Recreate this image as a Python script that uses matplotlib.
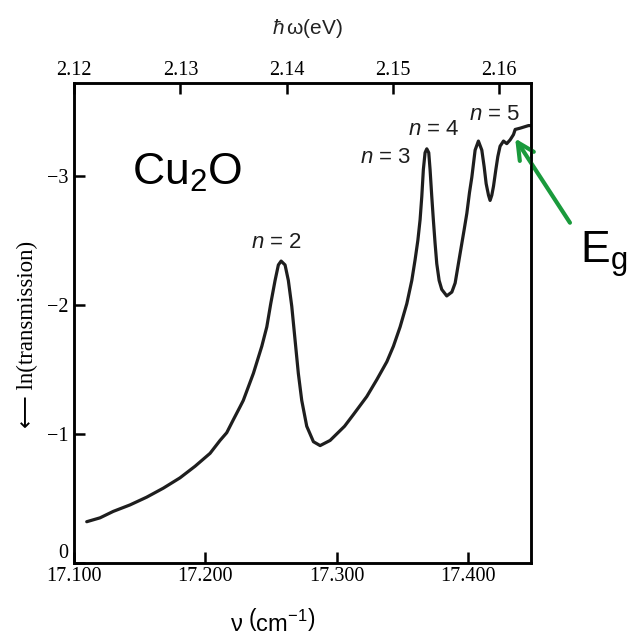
# Spectre d'absorption excitonique de Cu2O (serie jaune n = 2..5)

import numpy
import matplotlib
matplotlib.use("Agg")
import matplotlib.pyplot as plt

plt.rcParams['mathtext.fontset'] = 'custom'
plt.rcParams['mathtext.rm'] = 'Liberation Sans'
plt.rcParams['mathtext.it'] = 'Liberation Sans:italic'
plt.rcParams['mathtext.sf'] = 'Liberation Sans'

# Courbe : nombre d'onde (cm^-1) et ln(transmission)
wavenumber = [17109.7, 17119.8, 17129.9, 17142.6, 17155.3, 17168.0, 17180.7,
              17192.2, 17203.6, 17211.2, 17216.3, 17221.3, 17226.4, 17228.9,
              17236.6, 17243.0, 17246.8, 17249.8, 17253.1, 17255.6, 17257.7,
              17260.7, 17263.2, 17265.8, 17268.3, 17270.8, 17273.4, 17277.2,
              17282.3, 17287.4, 17295.0, 17300.0, 17306.0, 17312.7, 17322.9,
              17330.5, 17338.2, 17343.2, 17348.3, 17353.4, 17357.2, 17359.7,
              17361.8, 17363.5, 17364.8, 17366.0, 17367.3, 17368.6, 17370.1,
              17371.1, 17372.4, 17373.6, 17374.9, 17376.2, 17378.0, 17380.0,
              17383.8, 17387.7, 17390.2, 17394.0, 17397.0, 17399.1, 17401.1,
              17402.9, 17405.4, 17407.9, 17410.5, 17412.3, 17413.8, 17415.6,
              17416.8, 17418.1, 17419.4, 17421.2, 17422.7, 17424.4, 17427.0,
              17429.5, 17432.1, 17434.6, 17435.9, 17439.7, 17446.0, 17448.0]
ln_trans = [-0.32, -0.35, -0.40, -0.45, -0.51, -0.58, -0.66,
            -0.75, -0.85, -0.95, -1.01, -1.11, -1.21, -1.26,
            -1.47, -1.68, -1.83, -2.01, -2.19, -2.31, -2.34,
            -2.31, -2.19, -1.99, -1.73, -1.47, -1.26, -1.06,
            -0.94, -0.91, -0.95, -1.00, -1.06, -1.15, -1.29,
            -1.42, -1.56, -1.68, -1.83, -2.01, -2.19, -2.35,
            -2.50, -2.66, -2.84, -3.05, -3.18, -3.21, -3.18,
            -3.05, -2.84, -2.66, -2.48, -2.32, -2.19, -2.12,
            -2.07, -2.10, -2.17, -2.40, -2.58, -2.71, -2.87,
            -2.99, -3.20, -3.27, -3.20, -3.07, -2.94, -2.85,
            -2.81, -2.85, -2.92, -3.05, -3.15, -3.23, -3.27,
            -3.25, -3.28, -3.32, -3.36, -3.37, -3.39, -3.39]

# Graduations
x_ticks       = [17100, 17200, 17300, 17400]
x_tick_labels = ["17.100", "17.200", "17.300", "17.400"]
y_ticks       = [0, -1, -2, -3]
y_tick_labels = ["0", "\u22121", "\u22122", "\u22123"]
e_ticks       = [2.12, 2.13, 2.14, 2.15, 2.16]
e_tick_labels = ["2.12", "2.13", "2.14", "2.15", "2.16"]

# Etiquettes des pics : (nombre d'onde, ln(T), texte)
peak_labels = [(17253.8, -2.44, "$n$ = 2"),
               (17336.9, -3.10, "$n$ = 3"),
               (17374.0, -3.32, "$n$ = 4"),
               (17419.9, -3.43, "$n$ = 5")]

# Position du gap (pointe de la fleche verte)
EG_X, EG_Y = 17435.9, -3.29

SERIF = "Liberation Serif"
SANS  = "Liberation Sans"
GREEN = "#1a9a3c"

fig = plt.figure(figsize=(6.27, 6.4), dpi=100)
ax = fig.add_axes([0.118, 0.1203, 0.729, 0.750])

ax.plot(wavenumber, ln_trans, color="#1e1e1e", lw=2.3, solid_joinstyle="round",
        solid_capstyle="round")

ax.set_xlim(17100, 17448)
ax.set_ylim(0, -3.72)

ax.set_xticks(x_ticks)
ax.set_xticklabels(x_tick_labels, fontfamily=SERIF, fontsize=14.5)
ax.set_yticks(y_ticks)
ax.set_yticklabels(y_tick_labels, fontfamily=SERIF, fontsize=14.5)
ax.tick_params(direction="in", length=8, width=1.8, pad=4)
ax.tick_params(axis="x", pad=3)
# le "0" de l'axe vertical est pose au-dessus du coin, comme sur l'original
ax.get_yticklabels()[0].set_va("bottom")
for sp in ax.spines.values():
    sp.set_linewidth(1.8)

# Axe du haut : energie des photons (eV)
ax_top = ax.twiny()
ax_top.set_xlim(2.11999, 2.16300)
ax_top.set_xticks(e_ticks)
ax_top.set_xticklabels(e_tick_labels, fontfamily=SERIF, fontsize=14.5)
ax_top.tick_params(direction="in", length=8, width=1.8, pad=2)
for sp in ax_top.spines.values():
    sp.set_linewidth(1.8)

for xv, yv, txt in peak_labels:
    ax.text(xv, yv, txt, ha="center", va="baseline", fontsize=16,
            fontfamily=SANS, color="#1e1e1e")

ax.annotate("", xy=(EG_X, EG_Y), xycoords="data",
            xytext=(0.909, 0.652), textcoords="figure fraction",
            arrowprops=dict(arrowstyle="->", color=GREEN, lw=3, mutation_scale=30,
                            shrinkA=0, shrinkB=0),
            annotation_clip=False)

fig.text(0.211, 0.711, "Cu$_2$O", fontsize=32, fontfamily=SANS,
         ha="left", va="baseline")
fig.text(0.925, 0.589, "E$_\\mathrm{g}$", fontsize=32, fontfamily=SANS,
         ha="left", va="baseline")

fig.text(0.043, 0.477, "\u27f5 ln(transmission)", rotation=90, fontsize=16.5,
         fontfamily=[SERIF, "DejaVu Sans"], ha="center", va="center")
fig.text(0.491, 0.956, "$\\hbar\\,$\u03c9(eV)", fontsize=15, fontfamily=SANS,
         ha="center", va="center", color="#222222")
fig.text(0.434, 0.028, "$\\mathrm{\\nu}\\ \\left(\\mathrm{cm}^{-1}\\right)$",
         fontsize=17, ha="center", va="center")

fig.savefig("out.png", dpi=100)
